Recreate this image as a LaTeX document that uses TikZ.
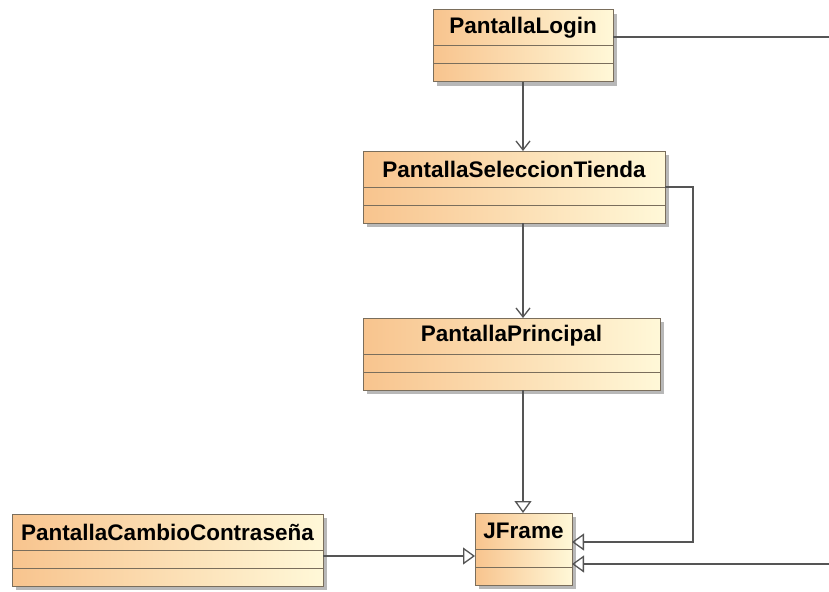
\documentclass[tikz,border=0pt]{standalone}
\usepackage{fontspec}
\setmainfont{Liberation Sans}
\usepackage{tikz}
\usetikzlibrary{arrows.meta,positioning,shadows,calc}
\definecolor{clsleft}{HTML}{F8C48E}
\definecolor{clsright}{HTML}{FFF8D8}
\definecolor{clsline}{HTML}{7A6E5C}
\definecolor{wire}{HTML}{555555}

\begin{document}
\begin{tikzpicture}[
  x=1pt,y=-1pt,
  cls/.style={draw=clsline,line width=1pt,left color=clsleft,right color=clsright,outer sep=0pt,inner sep=0pt,
    drop shadow={shadow xshift=4pt,shadow yshift=-4pt,fill=black!28,opacity=1}},
  hdr/.style={cls,minimum height=36pt,font=\fontsize{22.5}{26}\selectfont\bfseries,anchor=north west},
  cmp/.style={cls,minimum height=18pt,below=0pt of #1},
  assoc/.style={-{Straight Barb[length=9pt,width=14pt]},line width=1.3pt,wire},
  gen/.style={-{Triangle[open,length=12pt,width=17pt]},line width=1.3pt,wire}
]
\useasboundingbox[fill=white] (0,0) rectangle (829,591);

% clases
\node[hdr,minimum width=180pt] (login) at (433,10) {PantallaLogin};
\node[cmp=login,minimum width=180pt] (login-a) {};
\node[cmp=login-a,minimum width=180pt] (login-b) {};

\node[hdr,minimum width=302pt] (sel) at (363,151) {PantallaSeleccionTienda};
\node[cmp=sel,minimum width=302pt] (sel-a) {};
\node[cmp=sel-a,minimum width=302pt] (sel-b) {};

\node[hdr,minimum width=297pt] (prin) at (363,318) {PantallaPrincipal};
\node[cmp=prin,minimum width=297pt] (prin-a) {};
\node[cmp=prin-a,minimum width=297pt] (prin-b) {};

\node[hdr,minimum width=311pt] (cambio) at (12,514) {PantallaCambioContraseña};
\node[cmp=cambio,minimum width=311pt] (cambio-a) {};
\node[cmp=cambio-a,minimum width=311pt] (cambio-b) {};

\node[hdr,minimum width=97pt] (jframe) at (475,513) {JFrame};
\node[cmp=jframe,minimum width=97pt] (jframe-a) {};
\node[cmp=jframe-a,minimum width=97pt] (jframe-b) {};

% relaciones
\coordinate (loginout) at (829,37);
\coordinate (loginin) at (829,564);
\coordinate (selbend) at (693,542);

\draw[assoc] (login-b.south) -- (login-b.south |- sel.north);
\draw[assoc] (login-b.south |- sel-b.south) -- (login-b.south |- prin.north);
\draw[gen] (login-b.south |- prin-b.south) -- (login-b.south |- jframe.north);
\draw[gen] ([yshift=3pt]cambio-a.east) -- ([yshift=3pt]cambio-a.east -| jframe-a.west);
\draw[gen] (sel.south east) -| (selbend) -- (selbend -| jframe.east);
\draw[line width=1.3pt,wire] (login.east |- loginout) -- (loginout);
\draw[gen] (loginin) -- (loginin -| jframe-a.east);
\end{tikzpicture}
\end{document}
